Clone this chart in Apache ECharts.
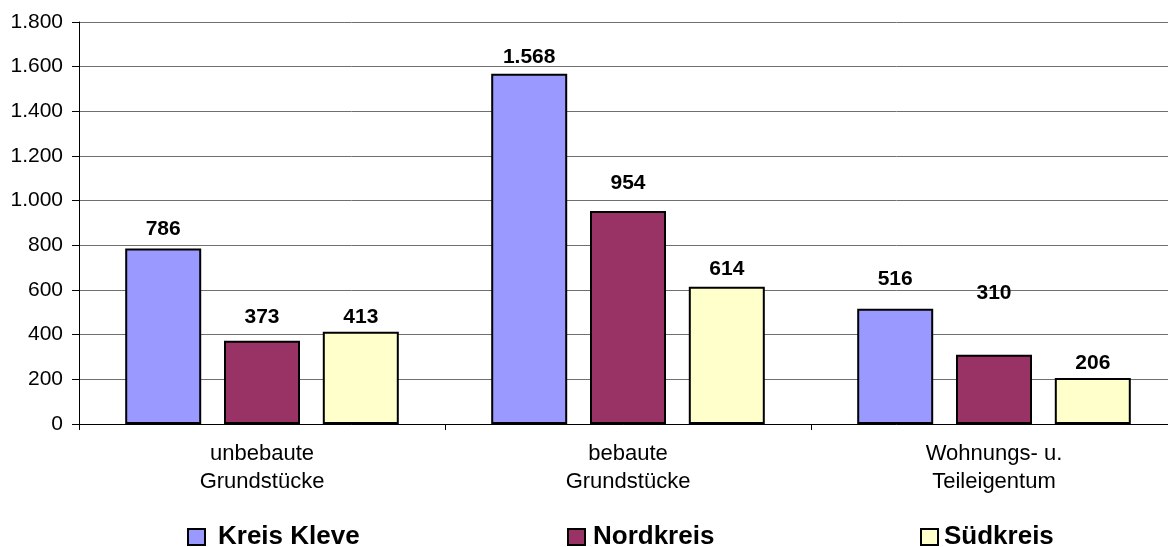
<!DOCTYPE html>
<html>
<head>
<meta charset="utf-8">
<script src="https://cdn.jsdelivr.net/npm/echarts@6/dist/echarts.min.js"></script>
<style>
  html, body { margin: 0; padding: 0; background: #fff; }
  #chart { width: 1168px; height: 547px; }
</style>
</head>
<body>
<div id="chart"></div>
<script>
// categories and values
const categories = ['unbebaute\nGrundstücke', 'bebaute\nGrundstücke', 'Wohnungs- u.\nTeileigentum']
const kreisKleve = [786, 1568, 516]
const nordkreis = [373, 954, 310]
const suedkreis = [413, 614, 206]
const yTicks = [0, 200, 400, 600, 800, 1000, 1200, 1400, 1600, 1800]

// how far each value label sits above its bar (style, not data)
const labelGap = {
    kleve: [9, 6, 19],
    nord: [13, 17, 51],
    sued: [4, 7, 4],
}

const FONT = '"Liberation Sans", Arial, sans-serif'

// 1568 -> "1.568"
function deNum(v) {
    return String(v).replace(/\B(?=(\d{3})+(?!\d))/g, '.')
}

function makeSeries(name, values, color, gaps) {
    return {
        name,
        type: 'bar',
        barWidth: 76,
        barGap: '30%',
        itemStyle: {
            color,
            borderColor: '#000',
            borderWidth: 2,
        },
        label: {
            show: true,
            position: 'top',
            color: '#000',
            fontFamily: FONT,
            fontWeight: 'bold',
            fontSize: 21,
            formatter: p => deNum(p.value),
        },
        data: values.map((v, i) => ({
            value: v,
            label: { distance: gaps[i] },
        })),
    }
}

function legendAt(name, left, textPad) {
    return {
        data: [name],
        left,
        top: 524,
        padding: 0,
        itemWidth: 17,
        itemHeight: 16,
        icon: 'rect',
        selectedMode: false,
        itemStyle: { borderColor: '#000', borderWidth: 2 },
        textStyle: {
            fontFamily: FONT,
            fontWeight: 'bold',
            fontSize: 26,
            color: '#000',
            padding: [0, 0, 0, textPad],
        },
    }
}

const chart = echarts.init(document.getElementById('chart'), null, { renderer: 'canvas' })

chart.setOption({
    animation: false,
    backgroundColor: '#fff',
    // plot runs a little past the right edge of the picture
    grid: {
        left: 79,
        width: 1098,
        top: 22,
        bottom: 123,
        containLabel: false,
        outerBoundsMode: 'none',
    },
    legend: [
        legendAt('Kreis Kleve', 187, 8),
        legendAt('Nordkreis', 567, 3),
        legendAt('Südkreis', 920, 1),
    ],
    xAxis: {
        type: 'category',
        data: categories,
        boundaryGap: true,
        axisLine: { lineStyle: { color: '#000', width: 1 } },
        axisTick: { show: true, length: 6, lineStyle: { color: '#000' } },
        axisLabel: {
            color: '#000',
            fontFamily: FONT,
            fontSize: 22,
            lineHeight: 28,
            margin: 16,
            interval: 0,
        },
    },
    yAxis: {
        type: 'value',
        min: yTicks[0],
        max: yTicks[yTicks.length - 1],
        interval: yTicks[1] - yTicks[0],
        axisLine: { show: true, lineStyle: { color: '#000', width: 1 } },
        axisTick: { show: true, length: 7, lineStyle: { color: '#000' } },
        axisLabel: {
            color: '#000',
            fontFamily: FONT,
            fontSize: 21,
            margin: 16,
            formatter: v => deNum(v),
        },
        splitLine: { show: true, lineStyle: { color: '#707070', width: 1 } },
    },
    series: [
        makeSeries('Kreis Kleve', kreisKleve, '#9999FF', labelGap.kleve),
        makeSeries('Nordkreis', nordkreis, '#993366', labelGap.nord),
        makeSeries('Südkreis', suedkreis, '#FFFFCC', labelGap.sued),
    ],
})
</script>
</body>
</html>
